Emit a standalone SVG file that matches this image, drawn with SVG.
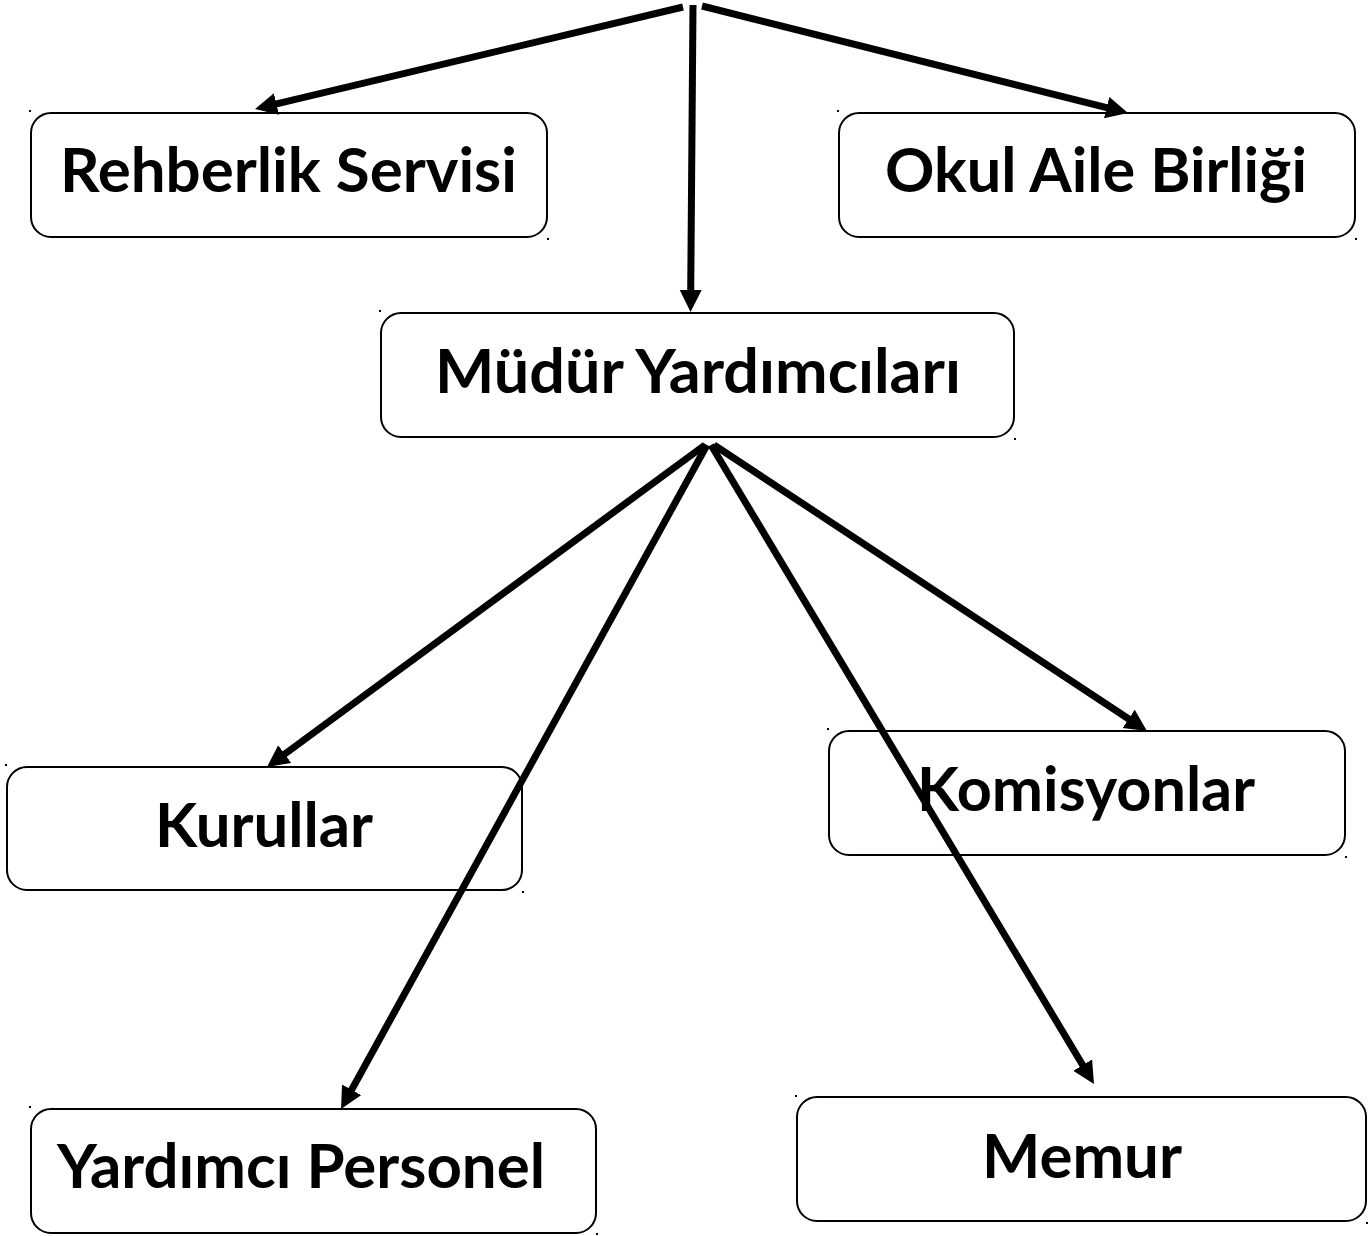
<svg xmlns="http://www.w3.org/2000/svg" width="1370" height="1236" viewBox="0 0 1370 1236">
  <style>
    .box { fill: #ffffff; stroke: #000000; stroke-width: 2; }
    .lbl { font-family: Lato, "Open Sans", "Liberation Sans", sans-serif; font-weight: bold; font-size: 62px; fill: #000000; }
    .dot { fill: #000000; }
    .conn { stroke: #000000; stroke-width: 7; fill: none; marker-end: url(#arrow); }
  </style>
  <defs>
    <marker id="arrow" markerUnits="userSpaceOnUse" markerWidth="24" markerHeight="24" refX="2" refY="11" orient="auto">
      <path d="M0,0 L22,11 L0,22 z" fill="#000000"/>
    </marker>
  </defs>
  <rect width="1370" height="1236" fill="#ffffff"/>

  <g id="rehberlik">
    <rect class="box" x="31" y="113" width="516" height="124" rx="20"/>
    <rect class="dot" x="29" y="110" width="2" height="2"/>
    <rect class="dot" x="547" y="238" width="2" height="2"/>
    <text class="lbl" x="60" y="192" textLength="457" lengthAdjust="spacingAndGlyphs">Rehberlik Servisi</text>
  </g>
  <g id="okul-aile">
    <rect class="box" x="839" y="113" width="516" height="124" rx="20"/>
    <rect class="dot" x="837" y="110" width="2" height="2"/>
    <rect class="dot" x="1355" y="238" width="2" height="2"/>
    <text class="lbl" x="885" y="192" textLength="422" lengthAdjust="spacingAndGlyphs">Okul Aile Birliği</text>
  </g>
  <g id="mudur-yardimcilari">
    <rect class="box" x="381" y="313" width="633" height="124" rx="20"/>
    <rect class="dot" x="379" y="310" width="2" height="2"/>
    <rect class="dot" x="1014" y="438" width="2" height="2"/>
    <text class="lbl" x="435" y="393" textLength="526" lengthAdjust="spacingAndGlyphs">Müdür Yardımcıları</text>
  </g>
  <g id="kurullar">
    <rect class="box" x="7" y="767" width="515" height="123" rx="20"/>
    <rect class="dot" x="5" y="764" width="2" height="2"/>
    <rect class="dot" x="522" y="891" width="2" height="2"/>
    <text class="lbl" x="155" y="847" textLength="218" lengthAdjust="spacingAndGlyphs">Kurullar</text>
  </g>
  <g id="komisyonlar">
    <rect class="box" x="829" y="731" width="516" height="124" rx="20"/>
    <rect class="dot" x="827" y="728" width="2" height="2"/>
    <rect class="dot" x="1345" y="856" width="2" height="2"/>
    <text class="lbl" x="917" y="811" textLength="338" lengthAdjust="spacingAndGlyphs">Komisyonlar</text>
  </g>
  <g id="yardimci-personel">
    <rect class="box" x="31" y="1109" width="565" height="124" rx="20"/>
    <rect class="dot" x="29" y="1106" width="2" height="2"/>
    <rect class="dot" x="596" y="1233" width="2" height="2"/>
    <text class="lbl" x="57" y="1188" textLength="488" lengthAdjust="spacingAndGlyphs">Yardımcı Personel</text>
  </g>
  <g id="memur">
    <rect class="box" x="797" y="1097" width="569" height="124" rx="20"/>
    <rect class="dot" x="795" y="1095" width="2" height="2"/>
    <rect class="dot" x="1366" y="1222" width="2" height="2"/>
    <text class="lbl" x="982" y="1178" textLength="200" lengthAdjust="spacingAndGlyphs">Memur</text>
  </g>

  <g id="connectors">
    <line class="conn" x1="683" y1="7" x2="274.5" y2="104.4"/>
    <line class="conn" x1="693" y1="5" x2="690.7" y2="292"/>
    <line class="conn" x1="702" y1="6" x2="1108.6" y2="108.1"/>
    <line class="conn" x1="705" y1="445" x2="283.1" y2="755.2"/>
    <line class="conn" x1="707" y1="445" x2="350.7" y2="1091.5"/>
    <line class="conn" x1="711" y1="445" x2="1083.7" y2="1066.8"/>
    <line class="conn" x1="714" y1="445" x2="1130.3" y2="720"/>
  </g>
</svg>
